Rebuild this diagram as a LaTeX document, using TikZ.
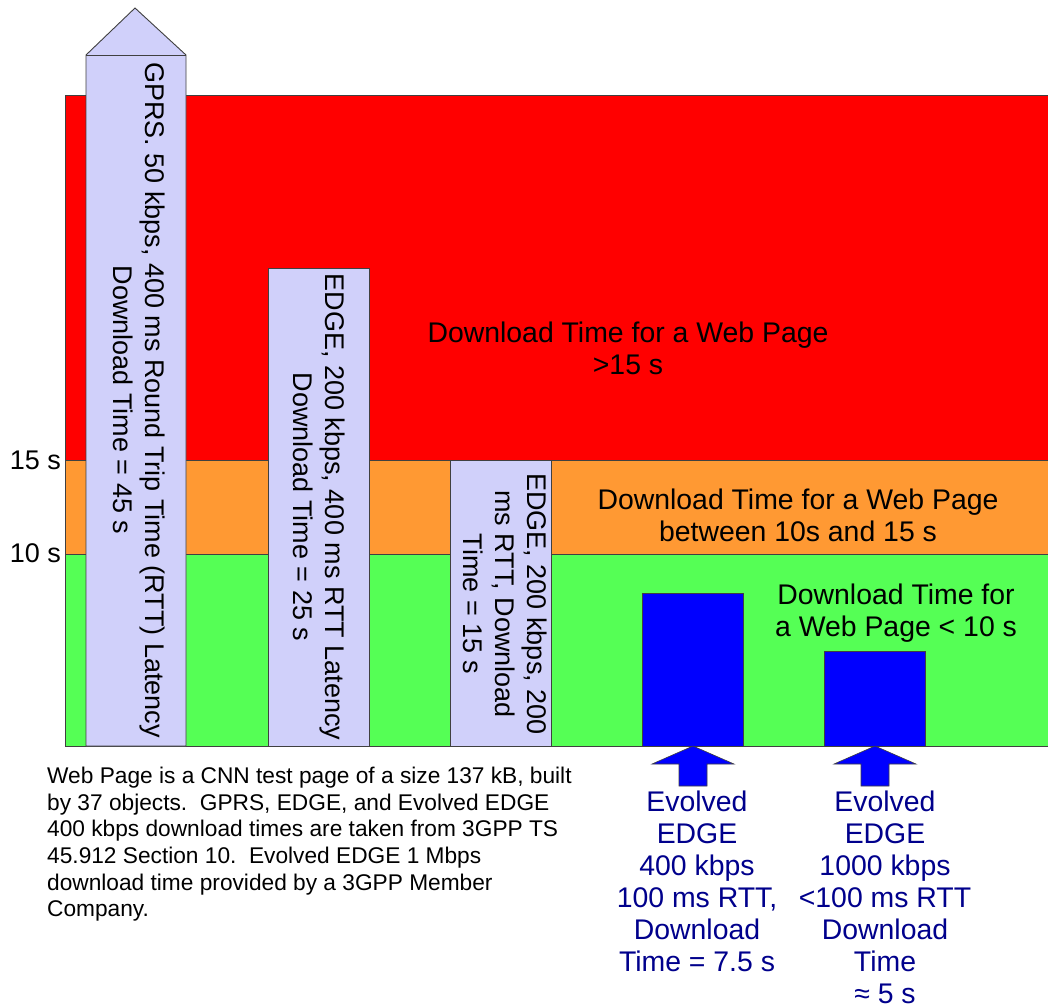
\documentclass[tikz,border=0pt]{standalone}
\usepackage{fontspec}
\setmainfont{Liberation Sans}
\definecolor{zred}{RGB}{255,0,0}
\definecolor{zorange}{RGB}{255,153,51}
\definecolor{zgreen}{RGB}{85,255,85}
\definecolor{zlav}{RGB}{208,208,250}
\definecolor{zblue}{RGB}{0,0,255}
\definecolor{znavy}{RGB}{0,0,140}
\definecolor{zedge}{RGB}{64,64,64}
\begin{document}
\begin{tikzpicture}[x=1pt,y=-1pt,
  zone/.style={draw=zedge,line width=0.9pt},
  barbox/.style={draw=zedge,line width=0.9pt,fill=zlav},
  bluebox/.style={draw=zedge,line width=0.9pt,fill=zblue},
  bigtxt/.style={font=\fontsize{28.4}{32}\selectfont,align=center,inner sep=0pt},
  bartxt/.style={font=\fontsize{27}{32}\selectfont,align=center,inner sep=0pt,rotate=-90},
  navytxt/.style={font=\fontsize{28.4}{32}\selectfont,align=center,inner sep=0pt,text=znavy},
  axtxt/.style={font=\fontsize{27}{32}\selectfont,inner sep=0pt,anchor=east},
  notetxt/.style={font=\fontsize{22.7}{26.6}\selectfont,align=left,inner sep=0pt,anchor=north west},
  uparrow/.style={fill=zblue,draw=zedge,line width=0.6pt}
]
\useasboundingbox (0,0) rectangle (1048,1004);
\fill[white] (0,0) rectangle (1048,1004);

% zones
\fill[zred] (65,95) rectangle (1048,460);
\fill[zorange] (65,460) rectangle (1048,554);
\fill[zgreen] (65,554) rectangle (1048,746);
\draw[zone] (1048,95) -- (65,95) -- (65,746) -- (1048,746);
\draw[zone] (65,460) -- (1048,460);
\draw[zone] (65,554) -- (1048,554);

% zone texts
\node[bigtxt] (tred) at (628,348) {Download Time for a Web Page\\>15 s};
\node[bigtxt] (torange) at (798,515) {Download Time for a Web Page\\between 10s and 15 s};
\node[bigtxt] (tgreen) at (896,613) {Download Time for\\a Web Page < 10 s};

% axis labels
\node[axtxt] (l15) at (61,460) {15 s};
\node[axtxt] (l10) at (61,553) {10 s};

% GPRS bar with arrow head
\draw[barbox] (86,746) -- (86,55) -- (135,8) -- (186,55) -- (186,746) -- cycle;
\draw[zone] (86,55) -- (186,55);
\node[bartxt] (gprs) at (139,400) {GPRS. 50 kbps, 400 ms Round Trip Time (RTT) Latency\\Download Time = 45 s};

% EDGE bars
\draw[barbox] (268,268) rectangle (369,746);
\node[bartxt] (edge1) at (319.5,507) {EDGE, 200 kbps, 400 ms RTT Latency\\Download Time = 25 s};
\draw[barbox] (450,460) rectangle (551,746);
\node[bartxt] (edge2) at (505,604) {EDGE, 200 kbps, 200\\ms RTT, Download\\Time = 15 s};

% Evolved EDGE bars
\draw[bluebox] (642,593) rectangle (743,746);
\draw[bluebox] (824,651) rectangle (925,746);

% up arrows
\coordinate (a1) at (693,746);
\coordinate (a2) at (875,746);
\draw[uparrow] (a1) -- (734,764) -- (707,764) -- (707,786) -- (679,786) -- (679,764) -- (652,764) -- cycle;
\draw[uparrow] (a2) -- (916,764) -- (889,764) -- (889,786) -- (861,786) -- (861,764) -- (834,764) -- cycle;

% Evolved EDGE labels
\node[navytxt,anchor=north] (ev1) at (697,791) {Evolved\\EDGE\\400 kbps\\100 ms RTT,\\Download\\Time = 7.5 s};
\node[navytxt,anchor=north] (ev2) at (885,791) {Evolved\\EDGE\\1000 kbps\\<100 ms RTT\\Download\\Time\\≈ 5 s};

% note
\node[notetxt] (note) at (47,767) {Web Page is a CNN test page of a size 137 kB, built\\by 37 objects.\ \ GPRS, EDGE, and Evolved EDGE\\400 kbps download times are taken from 3GPP TS\\45.912 Section 10.\ \ Evolved EDGE 1 Mbps\\download time provided by a 3GPP Member\\Company.};
\end{tikzpicture}
\end{document}
